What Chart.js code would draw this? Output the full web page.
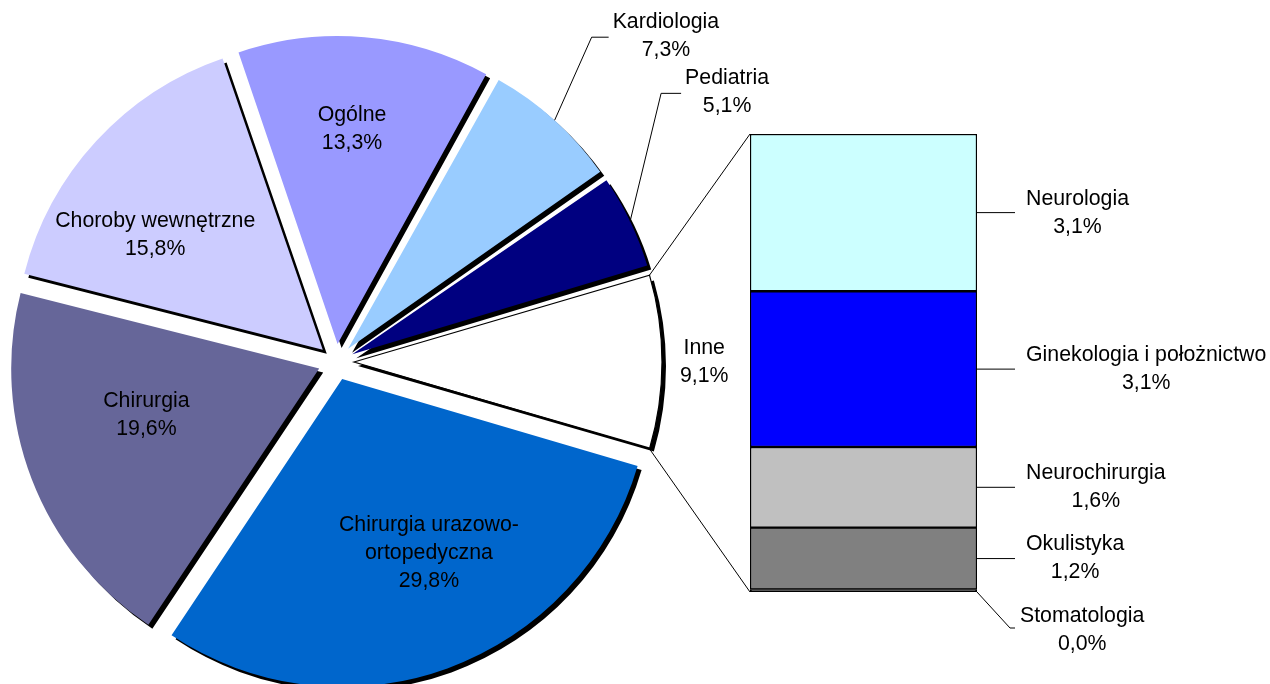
<!DOCTYPE html>
<html><head><meta charset="utf-8">
<script src="https://cdn.jsdelivr.net/npm/chart.js@4.4.1/dist/chart.umd.min.js"></script>
<style>
html,body{margin:0;padding:0;background:#fff;overflow:hidden}
#wrap{position:relative;width:1270px;height:684px}
#pie{position:absolute;left:0;top:0}
#bar{position:absolute;left:744px;top:128px}
</style></head>
<body><div id="wrap"><canvas id="pie" width="1270" height="684"></canvas><canvas id="bar" width="240" height="470"></canvas></div>
<script>
// ---- data ----
const pieLabels = ['Inne','Chirurgia urazowo-ortopedyczna','Chirurgia','Choroby wewnętrzne','Ogólne','Kardiologia','Pediatria'];
const pieValues = [9.1, 29.8, 19.6, 15.8, 13.3, 7.3, 5.1];
const pieColors = ['#FFFFFF','#0066CC','#666699','#CCCCFF','#9999FF','#99CCFF','#000080'];
const barLabels = ['Stomatologia','Okulistyka','Neurochirurgia','Ginekologia i położnictwo','Neurologia'];
const barValues = [0.049, 1.22, 1.59, 3.07, 3.10];
const barColors = ['#333333','#808080','#C0C0C0','#0000FF','#CCFFFF'];

// ---- layout / style ----
const EXPLODE = 18, RADIUS = 308;
const FONT = '21.3px "Liberation Sans", Arial, sans-serif';
const LINE_H = 28;
const pieLabelPlace = [
  {r:1.137, da:0},
  {r:0.632, da:-6.5},
  {r:0.581, da:6},
  {r:0.659, da:-8.3},
  {r:0.70, da:-1.2},
  {lead:[37,-83], h:17},
  {lead:[31,-128], h:20}
];
const total = pieValues.reduce((a,b)=>a+b,0);
const barTotal = barValues.reduce((a,b)=>a+b,0);
const fmt = v => v.toFixed(1).replace('.',',') + '%';
const splitName = n => n.includes('-') ? [n.slice(0,n.indexOf('-')+1), n.slice(n.indexOf('-')+1)] : [n];
function drawBlock(ctx, lines, cx, cy){
  ctx.textAlign='center'; ctx.textBaseline='middle';
  const n=lines.length;
  lines.forEach((l,i)=>ctx.fillText(l, cx, cy + (i-(n-1)/2)*LINE_H));
}
const blockWidth = (ctx, lines) => Math.max(...lines.map(l=>ctx.measureText(l).width));
function line(ctx, pts){ ctx.beginPath(); ctx.moveTo(pts[0][0],pts[0][1]); for(let i=1;i<pts.length;i++) ctx.lineTo(pts[i][0],pts[i][1]); ctx.stroke(); }

// ---- bar (stack) chart ----
const barChart = new Chart(document.getElementById('bar'), {
  type:'bar',
  data:{ labels:['Inne'], datasets: barValues.map((v,i)=>({
    label:barLabels[i], data:[v], backgroundColor:barColors[i], borderColor:'#000',
    borderWidth:1.5, borderSkipped:false, categoryPercentage:1, barPercentage:1 })) },
  options:{ responsive:false, animation:false, events:[], devicePixelRatio:1,
    layout:{padding:{left:6,top:6,right:7,bottom:6}},
    plugins:{legend:{display:false}, tooltip:{enabled:false}},
    scales:{ x:{stacked:true, display:false}, y:{stacked:true, display:false, min:0, max:barTotal} } }
});

// ---- pie chart ----
const piePlugin = {
  id:'pieExtras',
  afterDatasetUpdate(chart){
    chart.getDatasetMeta(0).data.forEach(a=>{
      const c = a.endAngle - a.startAngle;
      a.outerRadius = RADIUS - EXPLODE*(1 - Math.sin(Math.min(Math.PI, c)));
    });
  },
  beforeDatasetDraw(chart){
    const ctx=chart.ctx; ctx.save();
    ctx.shadowColor='#000'; ctx.shadowOffsetX=4; ctx.shadowOffsetY=4; ctx.shadowBlur=0;
  },
  afterDatasetDraw(chart){
    const ctx = chart.ctx;
    ctx.restore();
    // thin outline of the white "Inne" slice (no shadow)
    const a = chart.getDatasetMeta(0).data[0];
    const mid = (a.startAngle + a.endAngle)/2;
    const ox = a.x + Math.cos(mid)*EXPLODE, oy = a.y + Math.sin(mid)*EXPLODE;
    ctx.save();
    ctx.strokeStyle = '#000'; ctx.lineWidth = 1.2;
    ctx.beginPath(); ctx.moveTo(ox, oy); ctx.arc(ox, oy, RADIUS, a.startAngle, a.endAngle); ctx.closePath(); ctx.stroke();
    ctx.restore();
  },
  afterDraw(chart){
    const ctx = chart.ctx;
    ctx.save();
    ctx.font = FONT; ctx.fillStyle = '#000'; ctx.strokeStyle = '#000'; ctx.lineWidth = 1;
    const arcs = chart.getDatasetMeta(0).data;
    const geo = arcs.map(a=>{
      const mid = (a.startAngle + a.endAngle)/2;
      return {mid, start:a.startAngle, end:a.endAngle, ox:a.x + Math.cos(mid)*EXPLODE, oy:a.y + Math.sin(mid)*EXPLODE};
    });
    // pie labels
    pieLabels.forEach((name,i)=>{
      const g = geo[i], pl = pieLabelPlace[i];
      const lines = [...splitName(name), fmt(pieValues[i])];
      if (pl.lead){
        const sx = g.ox + RADIUS*Math.cos(g.mid), sy = g.oy + RADIUS*Math.sin(g.mid);
        const ex = sx + pl.lead[0], ey = sy + pl.lead[1];
        line(ctx, [[sx,sy],[ex,ey],[ex+pl.h,ey]]);
        const w = blockWidth(ctx, lines);
        drawBlock(ctx, lines, ex + pl.h + 4 + w/2, ey - 1);
      } else {
        const ang = g.mid + pl.da*Math.PI/180;
        drawBlock(ctx, lines, g.ox + pl.r*RADIUS*Math.cos(ang), g.oy + pl.r*RADIUS*Math.sin(ang));
      }
    });
    // bar geometry
    const rb = barChart.canvas.getBoundingClientRect(), rp = chart.canvas.getBoundingClientRect();
    const dx = rb.left - rp.left, dy = rb.top - rp.top;
    const segs = barValues.map((v,i)=>{
      const p = barChart.getDatasetMeta(i).data[0].getProps(['x','y','base','width']);
      return {left:p.x-p.width/2+dx, right:p.x+p.width/2+dx, top:Math.min(p.y,p.base)+dy, bottom:Math.max(p.y,p.base)+dy};
    });
    const bl = segs[0].left, br = segs[0].right, bt = segs[segs.length-1].top, bb = segs[0].bottom;
    // connectors from "Inne" slice to the stack
    const gi = geo[0];
    line(ctx, [[gi.ox + RADIUS*Math.cos(gi.start), gi.oy + RADIUS*Math.sin(gi.start)], [bl, bt]]);
    line(ctx, [[gi.ox + RADIUS*Math.cos(gi.end), gi.oy + RADIUS*Math.sin(gi.end)], [bl, bb]]);
    // bar labels
    barLabels.forEach((name,i)=>{
      const s = segs[i];
      const lines = [name, fmt(barValues[i])];
      const w = blockWidth(ctx, lines);
      if (s.bottom - s.top < 20){
        const ex = br + 33, ey = bb + 36;
        line(ctx, [[br, bb],[ex, ey],[ex+5, ey]]);
        drawBlock(ctx, lines, ex + 10 + w/2, ey + 2);
      } else {
        const my = (s.top + s.bottom)/2;
        line(ctx, [[br, my],[br+38, my]]);
        drawBlock(ctx, lines, br + 49 + w/2, my);
      }
    });
    ctx.restore();
  }
};

const pieChart = new Chart(document.getElementById('pie'), {
  type:'pie',
  data:{ labels:pieLabels, datasets:[{
    data:pieValues, backgroundColor:pieColors,
    borderColor:'#000', borderWidth:0,
    offset:4*EXPLODE, clip:false }] },
  options:{ responsive:false, animation:false, events:[], devicePixelRatio:1,
    rotation: 90 - (pieValues[0]/total*360)/2,
    radius: RADIUS,
    layout:{padding:{left:0, right:598, top:40, bottom:0}},
    plugins:{legend:{display:false}, tooltip:{enabled:false}} },
  plugins:[piePlugin]
});
</script>
</body></html>
